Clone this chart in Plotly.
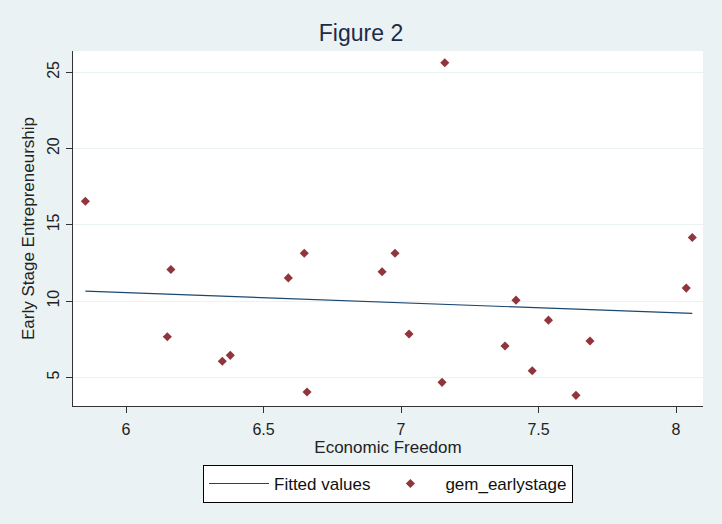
import plotly.graph_objects as go

econ_freedom = [5.852, 6.150, 6.163, 6.350, 6.379, 6.590, 6.648, 6.658,
                6.931, 6.978, 7.029, 7.149, 7.159, 7.378, 7.418, 7.477,
                7.536, 7.636, 7.687, 8.037, 8.059]
early_stage = [16.55, 7.66, 12.07, 6.05, 6.44, 11.52, 13.14, 4.04,
               11.92, 13.14, 7.84, 4.67, 25.63, 7.05, 10.06, 5.43,
               8.75, 3.82, 7.38, 10.85, 14.17]

fit_x = [5.852, 8.059]
fit_y = [10.65, 9.19]

x_ticks = [6, 6.5, 7, 7.5, 8]
x_tick_labels = ["6", "6.5", "7", "7.5", "8"]
y_ticks = [5, 10, 15, 20, 25]
y_tick_labels = ["5", "10", "15", "20", "25"]

FONT = "Liberation Sans, Arial, sans-serif"
BG = "#EAF2F3"

fig = go.Figure()
fig.add_trace(go.Scatter(
    x=fit_x, y=fit_y, mode="lines", name="Fitted values",
    line=dict(color="#1A476F", width=1.2)))
fig.add_trace(go.Scatter(
    x=econ_freedom, y=early_stage, mode="markers", name="gem_earlystage",
    marker=dict(symbol="diamond", size=7, color="#90353B")))

fig.update_layout(
    width=722, height=524,
    paper_bgcolor=BG, plot_bgcolor="white",
    margin=dict(l=73, r=19, t=51, b=118, autoexpand=False),
    font=dict(family=FONT, size=16, color="#222222"),
    title=dict(text="Figure 2", x=0.5, xanchor="center", y=1 - 33 / 524, yanchor="middle",
               font=dict(family=FONT, size=23, color="#1E2A4A")),
    showlegend=True,
    legend=dict(orientation="h", x=0.5, xanchor="center", y=-0.166, yanchor="top",
                bordercolor="#000000", borderwidth=1, bgcolor="white",
                font=dict(family=FONT, size=17, color="#111111"),
                itemwidth=60),
)
fig.update_xaxes(
    range=[5.807, 8.098], tickvals=x_ticks, ticktext=x_tick_labels,
    showgrid=False, zeroline=False, showline=True, linecolor="#333333", linewidth=1.3,
    ticks="outside", ticklen=6, tickcolor="#333333", automargin=False,
    tickfont=dict(size=16), ticklabelstandoff=3,
    title=dict(text="Economic Freedom", font=dict(size=17), standoff=2))
fig.update_yaxes(
    range=[3.12, 26.4], tickvals=y_ticks, ticktext=y_tick_labels,
    showgrid=True, gridcolor=BG, gridwidth=1.2,
    zeroline=False, showline=True, linecolor="#333333", linewidth=1.3,
    ticks="outside", ticklen=6, tickcolor="#333333", automargin=False,
    tickangle=-90, tickfont=dict(size=16),
    title=dict(text="Early Stage Entrepreneurship", font=dict(size=17), standoff=6))

fig.write_html("out.html", config={"displayModeBar": False},
               post_script="document.body.style.margin='0';document.body.style.background='#EAF2F3';")
